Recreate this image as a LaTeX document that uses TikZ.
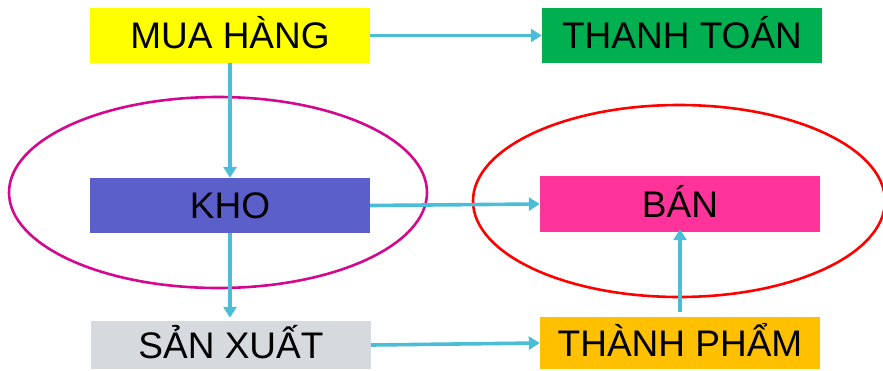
\documentclass[tikz,border=0pt]{standalone}
\usepackage{fontspec}
\setmainfont{Liberation Sans}
\usetikzlibrary{arrows.meta}
\definecolor{cyanarrow}{HTML}{4BBDD6}
\definecolor{cyellow}{HTML}{FFFF00}
\definecolor{cgreen}{HTML}{00B050}
\definecolor{ckho}{HTML}{5A5FCA}
\definecolor{cban}{HTML}{FF3399}
\definecolor{csx}{HTML}{D6DADF}
\definecolor{ctp}{HTML}{FFC000}
\definecolor{cmag}{HTML}{D4088F}
\definecolor{cred}{HTML}{FF0000}
\tikzset{
  box/.style={rectangle, inner sep=0pt, minimum width=280pt, minimum height=55pt,
    font=\fontsize{37}{37}\selectfont, text height=26.5pt, text depth=0pt, text=black},
  conn/.style={draw=cyanarrow, line width=3.6pt, -{Triangle[length=11pt,width=13pt]}},
  ring/.style={line width=2.6pt}
}
\begin{document}
\begin{tikzpicture}[x=1pt,y=-1pt]
\useasboundingbox (0,0) rectangle (883,370);
\draw[ring, cmag] (218,192.5) ellipse [x radius=209, y radius=95.5];
\draw[ring, cred] (679,201) ellipse [x radius=206, y radius=96];
\node[box, fill=cyellow] (mua) at (230,35.5) {MUA HÀNG};
\node[box, fill=cgreen] (tt) at (682,35.5) {THANH TOÁN};
\node[box, fill=ckho] (kho) at (230,205.5) {KHO};
\node[box, fill=cban, minimum height=56pt] (ban) at (680,204) {BÁN};
\node[box, fill=csx, minimum height=48pt] (sx) at (231,345) {SẢN XUẤT};
\node[box, fill=ctp, minimum height=52pt] (tp) at (680,343) {THÀNH PHẨM};
\draw[conn] (mua.east) -- (tt.west);
\draw[conn] (mua.south) -- (kho.north);
\draw[conn] (kho.east) -- (ban.west);
\draw[conn, shorten >=3pt] (kho.south) -- (kho.south |- sx.north);
\draw[conn] (sx.east) -- (tp.west);
\draw[conn, shorten <=5pt, shorten >=-3pt] (tp.north) -- (ban.south);
\end{tikzpicture}
\end{document}
